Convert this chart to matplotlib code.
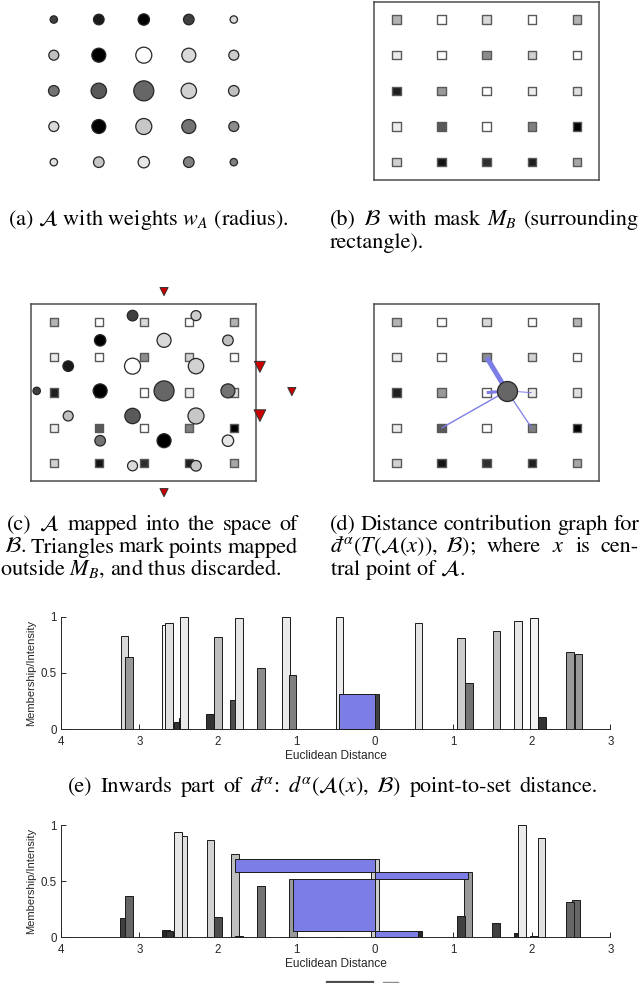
import matplotlib
matplotlib.use("Agg")
import matplotlib.pyplot as plt
from matplotlib.lines import Line2D

W, H = 640, 983

plt.rcParams["mathtext.fontset"] = "stix"

# ---- point sets ---------------------------------------------------------
# A: grey level and weight (radius) of each point, row by row
A_GRAY = [
    [0.25, 0.10, 0.00, 0.25, 0.85],
    [0.75, 0.00, 1.00, 0.85, 0.80],
    [0.45, 0.35, 0.40, 0.82, 0.75],
    [0.85, 0.00, 0.78, 0.45, 0.55],
    [0.88, 0.78, 0.90, 0.50, 0.50],
]
A_WEIGHT = [
    [0.37, 0.53, 0.57, 0.53, 0.37],
    [0.50, 0.70, 0.80, 0.70, 0.50],
    [0.53, 0.77, 1.00, 0.77, 0.53],
    [0.50, 0.70, 0.80, 0.70, 0.50],
    [0.37, 0.53, 0.57, 0.53, 0.37],
]
# B: grey level of each point
B_GRAY = [
    [0.70, 1.00, 0.85, 1.00, 0.70],
    [0.92, 1.00, 0.55, 0.82, 1.00],
    [0.12, 0.60, 1.00, 0.93, 0.88],
    [0.93, 0.35, 1.00, 0.50, 0.00],
    [0.82, 0.08, 0.18, 0.12, 0.65],
]

# A mapped into B's space (grid units), with the source point of A
MAP_X = [1.75, 3.16, 1.03, 2.45, 3.87, 0.32, 1.75, 3.16, -0.38, 1.03,
         2.45, 3.87, 0.32, 1.75, 3.16, 1.03, 2.45, 3.87, 1.75, 3.16]
MAP_Y = [-0.18, -0.18, 0.52, 0.52, 0.52, 1.25, 1.25, 1.25, 1.95, 1.95,
         1.95, 1.95, 2.66, 2.66, 2.66, 3.36, 3.36, 3.36, 4.07, 4.07]
MAP_SRC = [(0, 3), (1, 4), (0, 2), (1, 3), (2, 4), (0, 1), (1, 2), (2, 3),
           (0, 0), (1, 1), (2, 2), (3, 3), (1, 0), (2, 1), (3, 2), (2, 0),
           (3, 1), (4, 2), (3, 0), (4, 1)]
# mapped points falling outside the mask
OUT_X = [2.45, 4.58, 5.29, 4.58, 2.45]
OUT_Y = [-0.86, 1.27, 1.97, 2.65, 4.83]
OUT_SRC = [(0, 4), (3, 4), (4, 4), (4, 3), (4, 0)]

# distance contribution graph: central point -> B points, edge weight
GRAPH_COL = [2, 2, 3, 1, 3]
GRAPH_ROW = [1, 2, 2, 3, 3]
GRAPH_W = [3.6, 2.2, 0.7, 1.0, 0.9]

# ---- histograms (signed euclidean distance, membership, intensity) ------
IN_D = [-3.19, -3.13, -2.66, -2.62, -2.515, -2.45, -2.43, -2.10, -2.00,
        -1.79, -1.73, -1.45, -1.13, -1.05, -0.45, 0.00, 0.555, 1.10, 1.195,
        1.55, 1.82, 2.025, 2.13, 2.49, 2.595]
IN_M = [0.83, 0.64, 0.93, 0.94, 0.065, 0.10, 1.00, 0.13, 0.815, 0.26, 0.985,
        0.545, 1.00, 0.48, 1.00, 0.31, 0.94, 0.81, 0.41, 0.87, 0.96, 0.99,
        0.11, 0.69, 0.67]
IN_GRAY = [0.85, 0.60, 0.97, 0.88, 0.20, 0.15, 0.92, 0.20, 0.75, 0.30, 0.90,
           0.55, 0.92, 0.50, 0.92, 0.25, 0.90, 0.80, 0.45, 0.75, 0.90, 0.95,
           0.20, 0.60, 0.60]
IN_BLUE_L = [-0.455]
IN_BLUE_R = [0.0]
IN_BLUE_B = [0.0]
IN_BLUE_T = [0.31]

OUT_D = [-3.195, -3.135, -2.66, -2.617, -2.44, -2.507, -2.43, -2.095, -1.998,
         -1.785, -1.73, -1.45, -1.14, -1.045, -0.45, 0.00, 0.553, 1.188,
         1.095, 1.544, 1.817, 1.876, 2.025, 2.123, 2.564, 2.488]
OUT_M = [0.17, 0.365, 0.068, 0.06, 0.90, 0.935, 0.006, 0.87, 0.18, 0.74,
         0.008, 0.457, 0.004, 0.52, 0.005, 0.695, 0.056, 0.585, 0.19, 0.13,
         0.04, 1.00, 0.008, 0.887, 0.335, 0.31]
OUT_GRAY = [0.25, 0.40, 0.15, 0.20, 0.88, 0.90, 0.10, 0.82, 0.30, 0.75, 0.10,
            0.45, 0.20, 0.60, 0.20, 0.80, 0.15, 0.60, 0.25, 0.25, 0.15, 0.92,
            0.10, 0.88, 0.40, 0.40]
OUT_BLUE_L = [0.0, -1.04, 0.0, -1.78]
OUT_BLUE_R = [0.552, 0.0, 1.19, 0.0]
OUT_BLUE_B = [0.0, 0.059, 0.52, 0.585]
OUT_BLUE_T = [0.056, 0.52, 0.585, 0.695]

X_TICKS = [-4, -3, -2, -1, 0, 1, 2, 3]
X_TICK_LABELS = ["4", "3", "2", "1", "0", "1", "2", "3"]

BLUE = "#7d7de6"
BAR_W = 0.1
SERIF = "STIXGeneral"
SANS = "Liberation Sans"
CAP_SIZE = 16
DBAR = "\u0111"  # crossed d

fig = plt.figure(figsize=(W / 100, H / 100), dpi=100)


def box(x0, y0, x1, y1):
    """axes rectangle given in pixel coordinates (top-left origin)."""
    return [x0 / W, 1 - y1 / H, (x1 - x0) / W, (y1 - y0) / H]


def grid_axes(rect, frame=True):
    ax = fig.add_axes(rect)
    ax.set_xlim(-0.5, 4.5)
    ax.set_ylim(4.5, -0.5)
    ax.set_xticks([])
    ax.set_yticks([])
    for s in ax.spines.values():
        s.set_visible(frame)
        s.set_color("0.3")
        s.set_linewidth(1.1)
    return ax


def draw_B(ax):
    xs = [c for r in range(5) for c in range(5)]
    ys = [r for r in range(5) for c in range(5)]
    cs = [str(B_GRAY[r][c]) for r in range(5) for c in range(5)]
    ax.scatter(xs, ys, s=36, marker="s", c=cs, edgecolors="0.35",
               linewidths=1.0, zorder=2)


def circle_size(w):
    d_pt = 20 * w * 0.72  # diameter in points
    return d_pt ** 2


# (a)
ax_a = grid_axes(box(31.3, 1.7, 256.3, 180), frame=False)
ax_a.scatter([c for r in range(5) for c in range(5)],
             [r for r in range(5) for c in range(5)],
             s=[circle_size(A_WEIGHT[r][c]) for r in range(5) for c in range(5)],
             c=[str(A_GRAY[r][c]) for r in range(5) for c in range(5)],
             edgecolors="0.15", linewidths=0.9, zorder=3)

# (b)
ax_b = grid_axes(box(374, 1.7, 599.3, 180))
draw_B(ax_b)

# (c)
ax_c = grid_axes(box(31.3, 304.3, 256.3, 481))
draw_B(ax_c)
ax_c.scatter(MAP_X, MAP_Y,
             s=[circle_size(A_WEIGHT[r][c]) for r, c in MAP_SRC],
             c=[str(A_GRAY[r][c]) for r, c in MAP_SRC],
             edgecolors="0.15", linewidths=0.9, zorder=3, clip_on=False)
ax_c.scatter(OUT_X, OUT_Y,
             s=[(22 * A_WEIGHT[r][c] * 0.72) ** 2 for r, c in OUT_SRC],
             marker="v", c="#cc0000", edgecolors="0.2", linewidths=0.7,
             zorder=3, clip_on=False)

# (d)
ax_d = grid_axes(box(374, 304.3, 599.3, 481))
draw_B(ax_d)
cx, cy = MAP_X[MAP_SRC.index((2, 2))], MAP_Y[MAP_SRC.index((2, 2))]
for col, row, lw in zip(GRAPH_COL, GRAPH_ROW, GRAPH_W):
    ax_d.plot([cx, col], [cy, row], color=BLUE, lw=lw, zorder=4,
              solid_capstyle="butt")
ax_d.scatter([cx], [cy], s=circle_size(A_WEIGHT[2][2]), c=str(A_GRAY[2][2]),
             edgecolors="0.15", linewidths=0.9, zorder=5)


def hist_axes(rect, pos, val, gray, bl, br, bb, bt):
    ax = fig.add_axes(rect)
    for d, m, g in zip(pos, val, gray):
        ax.bar(d, m, width=BAR_W, color=str(g), edgecolor="0.1",
               linewidth=0.7, clip_on=False, zorder=2)
    for l, r, b, t in zip(bl, br, bb, bt):
        ax.bar(l, t - b, width=r - l, bottom=b, align="edge", color=BLUE,
               edgecolor="0.1", linewidth=0.7, clip_on=False, zorder=3)
    ax.set_xlim(-4, 3)
    ax.set_ylim(0, 1)
    ax.set_xticks(X_TICKS)
    ax.set_xticklabels(X_TICK_LABELS)
    ax.set_yticks([0, 0.5, 1])
    ax.set_yticklabels(["0", "0.5", "1"])
    ax.set_axisbelow(True)
    for s in ("top", "right"):
        ax.spines[s].set_visible(False)
    for s in ("left", "bottom"):
        ax.spines[s].set_color("0.15")
        ax.spines[s].set_linewidth(0.7)
    ax.tick_params(direction="in", length=3.5, width=0.7, color="0.15",
                   labelsize=8.3, labelcolor="0.15")
    ax.tick_params(axis="x", pad=5)
    ax.tick_params(axis="y", pad=3)
    for t in ax.get_xticklabels() + ax.get_yticklabels():
        t.set_family(SANS)
    ax.set_xlabel("Euclidean Distance", family=SANS, fontsize=8.6, color="0.15")
    ax.xaxis.set_label_coords(0.5, -0.185)
    ax.set_ylabel("Membership/Intensity", family=SANS, fontsize=8, color="0.15")
    ax.yaxis.set_label_coords(-0.046, 0.5)
    ax.patch.set_alpha(0)
    return ax


hist_axes(box(61, 616.7, 610.3, 729), IN_D, IN_M, IN_GRAY,
          IN_BLUE_L, IN_BLUE_R, IN_BLUE_B, IN_BLUE_T)
hist_axes(box(61, 825, 610.3, 937.3), OUT_D, OUT_M, OUT_GRAY,
          OUT_BLUE_L, OUT_BLUE_R, OUT_BLUE_B, OUT_BLUE_T)

# legend remnant cut at the bottom edge
fig.add_artist(Line2D([327 / W, 373 / W], [1 - 981.5 / H] * 2, color="0.3", lw=1.6))
fig.add_artist(Line2D([383 / W, 398 / W], [1 - 981.5 / H] * 2, color="0.55", lw=1.0))

# ---- captions ------------------------------------------------------------
CAP = dict(family=SERIF, fontsize=CAP_SIZE, va="baseline", ha="left")
renderer = fig.canvas.get_renderer()


def caption(s, x, y, **kw):
    opts = dict(CAP)
    opts.update(kw)
    return fig.text(x / W, 1 - y / H, s, **opts)


def justify(words, x0, x1, y):
    texts = [caption(w, 0, y) for w in words]
    widths = [t.get_window_extent(renderer).width for t in texts]
    gap = (x1 - x0 - sum(widths)) / (len(words) - 1)
    x = x0
    for t, w in zip(texts, widths):
        t.set_position((x / W, 1 - y / H))
        x += w + gap


caption(r"(a) $\mathcal{A}$ with weights $w_A$ (radius).", 8, 225)
justify(["(b)", r"$\mathcal{B}$", "with", "mask", r"$M_B$", "(surrounding"],
        330, 639, 225)
caption("rectangle).", 330, 247.5)

justify(["(c)", r"$\mathcal{A}$", "mapped", "into", "the", "space", "of"],
        7, 298, 530)
justify([r"$\mathcal{B}$.", "Triangles", "mark", "points", "mapped"],
        4, 298, 552.5)
caption(r"outside $M_B$, and thus discarded.", 0, 575)

justify(["(d)", "Distance", "contribution", "graph", "for"], 330, 639, 530)
justify(["$" + DBAR + r"^{\alpha}(T(\mathcal{A}(x)),\ \mathcal{B})$;", "where",
         r"$x$", "is", "cen-"], 330, 639, 552.5)
caption(r"tral point of $\mathcal{A}$.", 330, 575)

justify(["(e)", "Inwards", "part", "of", "$" + DBAR + r"^{\alpha}$:",
         r"$d^{\alpha}(\mathcal{A}(x),\ \mathcal{B})$", "point-to-set",
         "distance."], 68, 598, 792)

fig.savefig("out.png", dpi=100)
